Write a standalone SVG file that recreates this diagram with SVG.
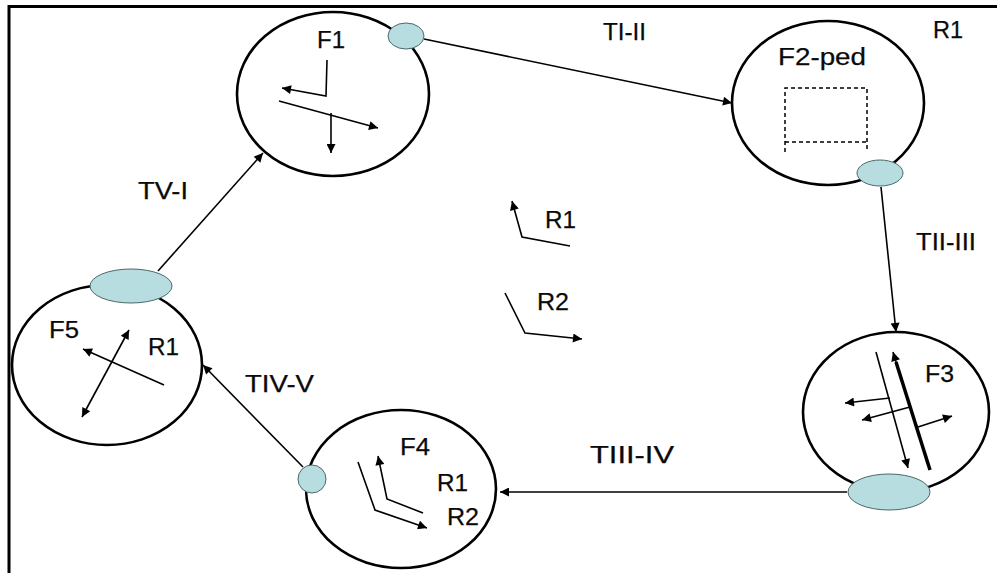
<svg xmlns="http://www.w3.org/2000/svg" width="997" height="573" viewBox="0 0 997 573">
<style>
.c{fill:none;stroke:#000;stroke-width:2.6}
.p{fill:#b7dde0;stroke:#4a6a6a;stroke-width:1}
.t{font-family:"Liberation Sans",Arial,sans-serif;font-size:23px;fill:#0a0a0a;stroke:#0a0a0a;stroke-width:0.25}
.k{fill:none;stroke:#000;stroke-width:1.6;marker-end:url(#ah)}
</style>
<defs>
<marker id="ah" viewBox="0 0 10 10" refX="10" refY="5" markerWidth="12" markerHeight="9" markerUnits="userSpaceOnUse" orient="auto-start-reverse">
<path d="M0,0 L10,5 L0,10 z" fill="#000"/>
</marker>
</defs>
<rect width="997" height="573" fill="#fff"/>
<path d="M9,573 V6.5 H997" fill="none" stroke="#000" stroke-width="3"/>

<g id="connectors">
<line class="k" x1="424" y1="39" x2="732" y2="103"/>
<line class="k" x1="881" y1="187" x2="896" y2="332"/>
<line class="k" x1="847" y1="492" x2="500" y2="492"/>
<line class="k" x1="303" y1="467" x2="203" y2="365"/>
<line class="k" x1="158" y1="271" x2="263" y2="153"/>
<text class="t" x="603" y="40" textLength="43" lengthAdjust="spacingAndGlyphs">TI-II</text>
<text class="t" x="916" y="250" textLength="60" lengthAdjust="spacingAndGlyphs">TII-III</text>
<text class="t" x="590" y="463" textLength="84" lengthAdjust="spacingAndGlyphs">TIII-IV</text>
<text class="t" x="245" y="392" textLength="69" lengthAdjust="spacingAndGlyphs">TIV-V</text>
<text class="t" x="138" y="199" textLength="50" lengthAdjust="spacingAndGlyphs">TV-I</text>
</g>

<g id="F1">
<ellipse class="c" cx="333" cy="94" rx="96" ry="82"/>
<ellipse class="p" cx="406" cy="36" rx="18" ry="13"/>
<text class="t" x="317" y="48" textLength="28" lengthAdjust="spacingAndGlyphs">F1</text>
<polyline class="k" points="327,60 326,96 282,88"/>
<line class="k" x1="279" y1="101" x2="378" y2="128"/>
<line class="k" x1="331" y1="113" x2="331" y2="153"/>
</g>

<g id="F2">
<ellipse class="c" cx="828" cy="103" rx="96" ry="82"/>
<ellipse class="p" cx="880" cy="173" rx="23" ry="13"/>
<text class="t" x="778" y="65" textLength="88" lengthAdjust="spacingAndGlyphs">F2-ped</text>
<path d="M785,152 V88 H867 V152 M785,142 H867" fill="none" stroke="#000" stroke-width="1.5" stroke-dasharray="4,3"/>
</g>
<text class="t" x="933" y="38" textLength="30" lengthAdjust="spacingAndGlyphs">R1</text>

<g id="F3">
<ellipse class="c" cx="896" cy="412" rx="93" ry="80"/>
<ellipse class="p" cx="889" cy="492" rx="41" ry="18"/>
<text class="t" x="925" y="382" textLength="29" lengthAdjust="spacingAndGlyphs">F3</text>
<line class="k" x1="876" y1="352" x2="908" y2="468"/>
<line x1="930" y1="470" x2="896" y2="362" stroke="#000" stroke-width="3.5"/>
<line class="k" x1="897" y1="365" x2="893" y2="352"/>
<line class="k" x1="890" y1="398" x2="845" y2="403"/>
<line class="k" x1="910" y1="407" x2="862" y2="420"/>
<line class="k" x1="918" y1="427" x2="952" y2="416"/>
</g>

<g id="F4">
<ellipse class="c" cx="401" cy="489" rx="95" ry="79"/>
<circle class="p" cx="312" cy="479" r="14"/>
<text class="t" x="400" y="455" textLength="30" lengthAdjust="spacingAndGlyphs">F4</text>
<text class="t" x="437" y="491" textLength="31" lengthAdjust="spacingAndGlyphs">R1</text>
<text class="t" x="447" y="525" textLength="32" lengthAdjust="spacingAndGlyphs">R2</text>
<polyline class="k" points="358,462 375,510 427,528"/>
<polyline class="k" points="423,513 387,499 378,456"/>
</g>

<g id="F5">
<ellipse class="c" cx="107" cy="365" rx="95" ry="80"/>
<ellipse class="p" cx="131" cy="286" rx="41" ry="17"/>
<text class="t" x="49" y="338" textLength="30" lengthAdjust="spacingAndGlyphs">F5</text>
<text class="t" x="148" y="355" textLength="31" lengthAdjust="spacingAndGlyphs">R1</text>
<line class="k" x1="164" y1="385" x2="83" y2="349"/>
<line class="k" x1="82" y1="417" x2="129" y2="330" style="marker-start:url(#ah)"/>
</g>

<g id="center">
<polyline class="k" points="570,246 522,237 512,201"/>
<text class="t" x="545" y="228" textLength="31" lengthAdjust="spacingAndGlyphs">R1</text>
<polyline class="k" points="505,293 525,333 582,339"/>
<text class="t" x="537" y="310" textLength="32" lengthAdjust="spacingAndGlyphs">R2</text>
</g>
</svg>
